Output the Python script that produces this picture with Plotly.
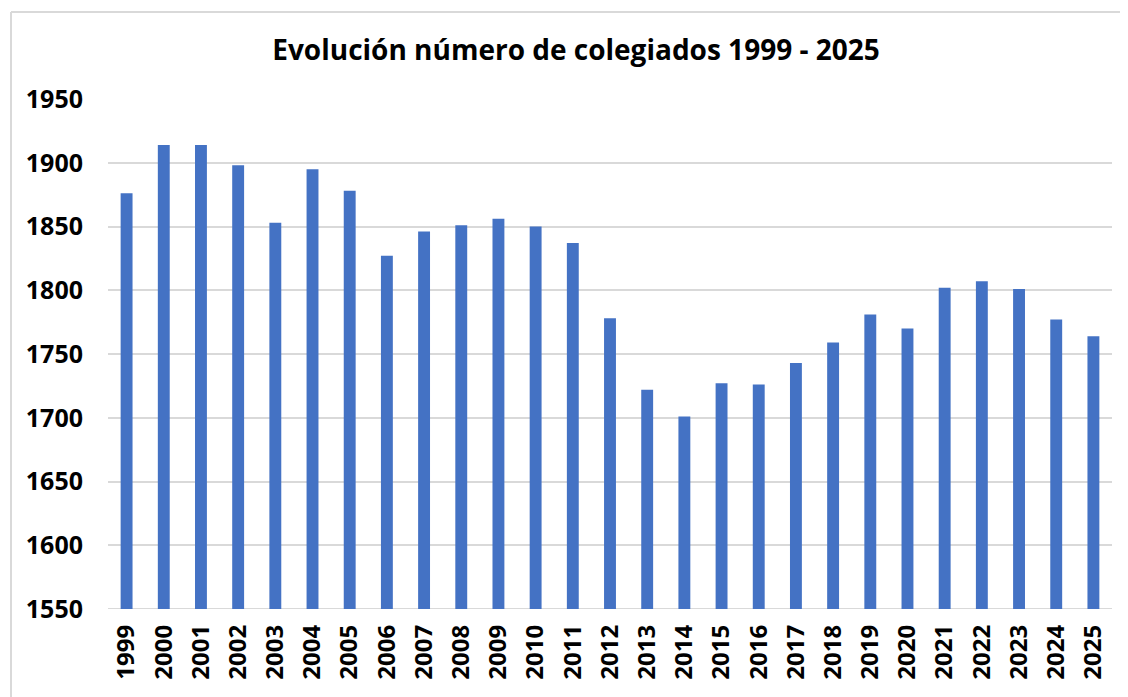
import plotly.graph_objects as go

years = [str(y) for y in range(1999, 2026)]
colegiados = [1876, 1914, 1914, 1898, 1853, 1895, 1878, 1827, 1846, 1851, 1856, 1850, 1837,
              1778, 1722, 1701, 1727, 1726, 1743, 1759, 1781, 1770, 1802, 1807, 1801, 1777, 1764]
y_ticks = [1550, 1600, 1650, 1700, 1750, 1800, 1850, 1900, 1950]
title_text = "Evolución número de colegiados 1999 - 2025"

FONT = "Open Sans"
OFF = 8  # page body margin offset
VW, VH = 1128, 697
W, H = VW - OFF, VH - OFF
# target plot area in viewport pixels: x 108..1112, y 99..609
L, T = 108 - OFF, 99 - OFF
R = (W + OFF) - 1112
B = (H + OFF) - 609
pw, ph = W - L - R, H - T - B

bx0 = (11 - OFF - L) / pw
bx1 = (W + 20 - L) / pw
by0 = (H - B - H - 20) / ph
by1 = (H - B - (12 - OFF)) / ph
border = dict(color="#d9d9d9", width=2)

fig = go.Figure(go.Bar(x=years, y=colegiados, marker=dict(color="#4472C4", line=dict(width=0))))

fig.update_layout(
    width=W, height=H,
    margin=dict(l=L, r=R, t=T, b=B, pad=0),
    plot_bgcolor="white", paper_bgcolor="white",
    bargap=0.68,
    showlegend=False,
    title=dict(text=f"<b>{title_text}</b>", x=(576 - OFF) / W, xanchor="center",
               y=1 - (50 - OFF) / H, yanchor="middle",
               font=dict(family=FONT, size=28, color="black")),
    xaxis=dict(type="category", tickangle=-90, showgrid=False, showline=False,
               ticks="", ticklabelstandoff=10,
               tickfont=dict(family=FONT, size=24, color="black", weight="bold")),
    yaxis=dict(range=[1550, 1950], tickvals=y_ticks, showgrid=True, gridcolor="#d9d9d9",
               gridwidth=2, zeroline=False, showline=False, ticks="",
               ticklabelstandoff=24,
               tickfont=dict(family=FONT, size=25, color="black", weight="bold")),
    shapes=[dict(type="line", xref="paper", yref="paper", x0=bx0, x1=bx1, y0=by1, y1=by1,
                 line=border, layer="below"),
            dict(type="line", xref="paper", yref="paper", x0=bx0, x1=bx0, y0=by0, y1=by1,
                 line=border, layer="below"),
            dict(type="line", xref="paper", yref="y", x0=0, x1=1, y0=1550, y1=1550,
                 line=border, layer="below")],
)

fig.write_html("out.html")
